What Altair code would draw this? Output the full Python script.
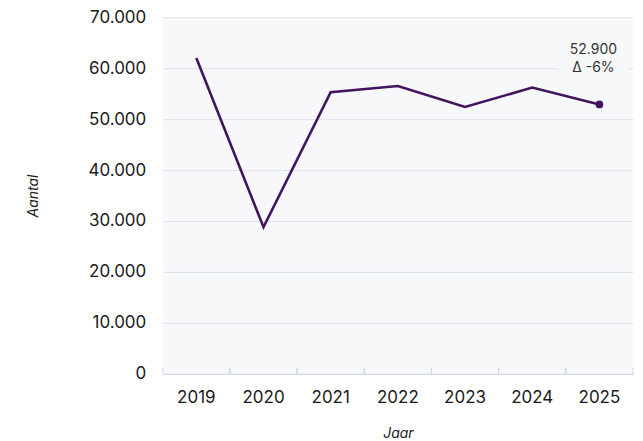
import altair as alt
import pandas as pd

years = ["2019", "2020", "2021", "2022", "2023", "2024", "2025"]
values = [62000, 28800, 55300, 56500, 52400, 56200, 52900]
last_label = ["52.900", "Δ -6%"]

df = pd.DataFrame({"jaar": years, "aantal": values})
last = df.tail(1).assign(label=[last_label])

FONT = "Inter"
PURPLE = "#42145f"
BG = "#f7f8fa"
AXIS_GRAY = "#cfd6e2"

x_axis = alt.Axis(labelAngle=0, ticks=False, labelPadding=16, bandPosition=0.5,
                  domainColor=AXIS_GRAY, titlePadding=21)
x_scale = alt.Scale(paddingInner=0, paddingOuter=0)

x = alt.X("jaar:N", sort=years, title="Jaar", scale=x_scale, axis=x_axis)
y = alt.Y("aantal:Q", title="Aantal",
          scale=alt.Scale(domain=[0, 70000]),
          axis=alt.Axis(values=list(range(0, 70001, 10000)), domain=False, ticks=False,
                        labelPadding=17, titlePadding=48,
                        gridColor="#dde3ed",
                        labelExpr="replace(format(datum.value, ','), /,/g, '.')"))

base = alt.Chart(df)

line = base.mark_line(color=PURPLE, strokeWidth=2.6).encode(x=x, y=y)

ticks0 = base.mark_rule(color=AXIS_GRAY, strokeWidth=1).encode(
    x=alt.X("jaar:N", sort=years, title="Jaar", bandPosition=0, scale=x_scale, axis=x_axis),
    y=alt.value(351), y2=alt.value(357))
ticks1 = base.mark_rule(color=AXIS_GRAY, strokeWidth=1).encode(
    x=alt.X("jaar:N", sort=years, title="Jaar", bandPosition=1, scale=x_scale, axis=x_axis),
    y=alt.value(351), y2=alt.value(357))

box = alt.Chart(last).mark_point(
    shape="M-1,-0.5H1V0.5H-1Z", filled=True, fill=BG, opacity=1, size=4900,
    xOffset=-6, yOffset=-45, strokeWidth=0
).encode(x=x, y=y)

dot = alt.Chart(last).mark_circle(color=PURPLE, size=60, opacity=1).encode(x=x, y=y)

text = alt.Chart(last).mark_text(
    font=FONT, fontSize=14, color="#333333", align="center", baseline="bottom",
    dx=-6, dy=-47, lineHeight=18
).encode(x=x, y=y, text="label")

chart = alt.layer(box, line, ticks0, ticks1, dot, text).properties(
    width=471, height=357,
    padding={"left": 18, "top": 0, "right": 1, "bottom": 0}
).configure_view(stroke=None, fill=BG).configure_axis(
    labelFont=FONT, labelFontSize=17, labelColor="#1a1a1a",
    titleFont=FONT, titleFontSize=14, titleFontStyle="italic",
    titleFontWeight="normal", titleColor="#1a1a1a"
).configure_axisX(grid=False)

chart.save("out.html", embed_options={"renderer": "svg", "actions": False})
